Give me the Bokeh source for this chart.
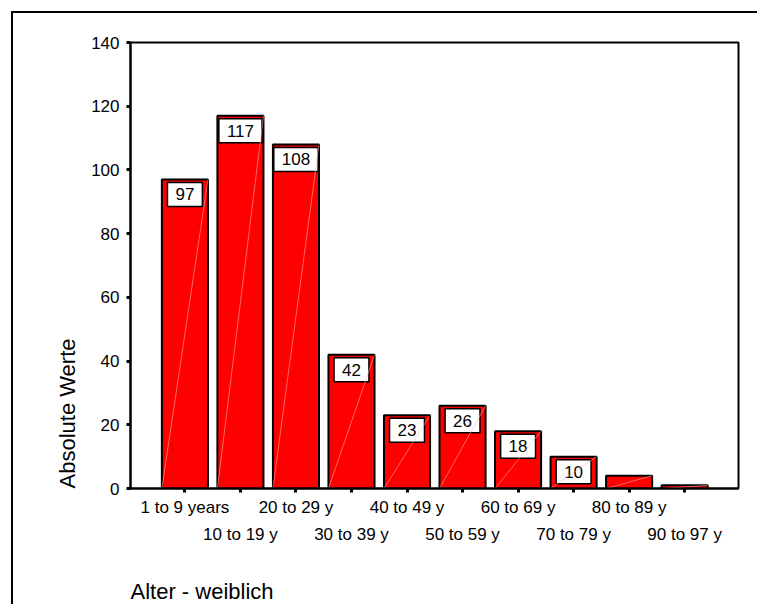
from bokeh.plotting import figure
from bokeh.models import FixedTicker, InlineStyleSheet, LinearAxis, Range1d, Title
from bokeh.core.properties import value
from bokeh.embed import file_html
from bokeh.resources import INLINE

# Female patients by age group (absolute counts)
age_groups = ["1 to 9 years", "10 to 19 y", "20 to 29 y", "30 to 39 y", "40 to 49 y",
              "50 to 59 y", "60 to 69 y", "70 to 79 y", "80 to 89 y", "90 to 97 y"]
counts = [97, 117, 108, 42, 23, 26, 18, 10, 4, 1]
y_ticks = [0, 20, 40, 60, 80, 100, 120, 140]
y_title = "Absolute Werte"
x_title = "Alter - weiblich"

FONT = "Liberation Sans"
BAR_W = 0.83
positions = list(range(1, len(age_groups) + 1))

p = figure(width=757, height=604,
           x_range=Range1d(0.02, 10.97), y_range=Range1d(0, 140),
           min_border_left=130, min_border_right=19,
           min_border_top=42, min_border_bottom=116,
           output_backend="svg", toolbar_location=None)
# outer chart frame: 2px black edges along the top and left, painted behind a
# transparent border area
p.stylesheets = [InlineStyleSheet(css=(
    ":host { background: "
    "linear-gradient(#000, #000) 11px 11px / 2px 593px no-repeat, "
    "linear-gradient(#000, #000) 11px 11px / 746px 2px no-repeat, #fff; }"))]

p.background_fill_color = "white"
p.border_fill_color = None
p.outline_line_color = "black"
p.outline_line_width = 2
p.xgrid.visible = False
p.ygrid.visible = False

# y axis
ya = p.yaxis[0]
ya.ticker = FixedTicker(ticks=y_ticks)
ya.axis_line_width = 2
ya.major_tick_line_width = 3
ya.major_tick_out = 4
ya.major_tick_in = 0
ya.minor_tick_line_color = None
ya.major_label_standoff = 7
ya.major_label_text_font = FONT
ya.major_label_text_font_size = "17px"
ya.major_label_text_color = "black"

# x axis: labels staggered over two rows
xa = p.xaxis[0]
xa.ticker = FixedTicker(ticks=positions)
xa.major_label_overrides = {i: (lab if i % 2 == 1 else "") for i, lab in zip(positions, age_groups)}
xa.axis_line_width = 2
xa.major_tick_line_width = 3
xa.major_tick_out = 4
xa.major_tick_in = 0
xa.minor_tick_line_color = None
xa.major_label_standoff = 5
xa.major_label_text_font = FONT
xa.major_label_text_font_size = "17px"
xa.major_label_text_color = "black"

xa2 = LinearAxis(ticker=FixedTicker(ticks=positions[1::2]))
xa2.major_label_overrides = {i: lab for i, lab in zip(positions, age_groups) if i % 2 == 0}
xa2.axis_line_color = None
xa2.major_tick_line_color = None
xa2.minor_tick_line_color = None
xa2.major_tick_out = 0
xa2.major_tick_in = 0
xa2.major_label_standoff = 5
xa2.major_label_text_font = FONT
xa2.major_label_text_font_size = "17px"
xa2.major_label_text_color = "black"
p.add_layout(xa2, "below")

p.add_layout(Title(text=y_title, align="left", text_font=FONT, text_font_size="22px",
                   text_font_style="normal", text_color="black", standoff=18), "left")
# empty spacer row between the tick labels and the caption
p.add_layout(Title(text=" ", text_font_size="1px", standoff=26), "below")
p.add_layout(Title(text=x_title, align="left", vertical_align="bottom", text_font=FONT,
                   text_font_size="22px", text_font_style="normal", text_color="black",
                   standoff=2), "below")

# bars
p.vbar(x=positions, top=counts, width=BAR_W, fill_color="#ff0000",
       line_color="black", line_width=2)

# value boxes inside the top of each bar that is tall enough
lab_x = [x for x, c in zip(positions, counts) if c >= 10]
lab_y = [c for c in counts if c >= 10]
lab_t = [str(c) for c in counts if c >= 10]
p.text(x=lab_x, y=lab_y, text=lab_t, text_align="center", text_baseline="top",
       y_offset=3, text_font=value(FONT), text_font_size="17px", text_color="black",
       background_fill_color="white", border_line_color="black", border_line_width=1.5,
       padding=dict(left=8, right=8, top=6, bottom=6))

# faint diagonal hairline across each bar
p.segment(x0=[x - BAR_W / 2 for x in positions], y0=[0] * len(positions),
          x1=[x + BAR_W / 2 for x in positions], y1=counts,
          line_color="#ffb8b8", line_width=0.7, line_alpha=0.8)

open("out.html", "w").write(file_html(p, INLINE))
